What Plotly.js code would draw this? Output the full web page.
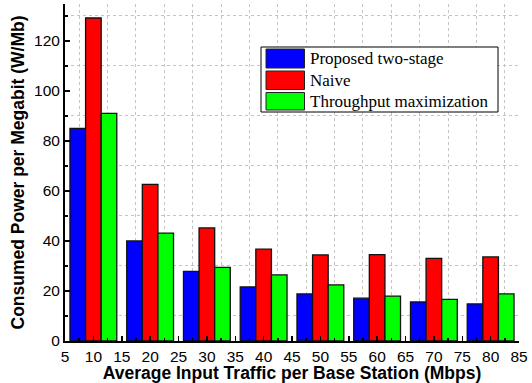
<!DOCTYPE html>
<html>
<head>
<meta charset="utf-8">
<script src="https://cdn.plot.ly/plotly-3.0.1.min.js"></script>
<style>
  html, body { margin: 0; padding: 0; background: #fff; }
  #chart { width: 532px; height: 383px; }
</style>
</head>
<body>
<div id="chart"></div>
<script>
// Average input traffic per base station (Mbps)
const traffic = [10, 20, 30, 40, 50, 60, 70, 80];

// Consumed power per megabit (W/Mb) for each scheme
const seriesNames = ['Proposed two-stage', 'Naive', 'Throughput maximization'];
const proposed   = [85.0, 40.0, 27.8, 21.6, 18.8, 17.1, 15.6, 14.8];
const naive      = [129.1, 62.6, 45.2, 36.7, 34.4, 34.5, 33.0, 33.6];
const throughput = [91.0, 43.1, 29.4, 26.4, 22.4, 17.9, 16.6, 18.8];

const seriesValues = [proposed, naive, throughput];
const seriesColors = ['#0000ff', '#ff0000', '#00ff00'];

const traces = seriesValues.map((vals, i) => ({
  type: 'bar',
  name: seriesNames[i],
  x: traffic,
  y: vals,
  marker: { color: seriesColors[i], line: { color: '#111', width: 1.3 } },
  showlegend: false,
  hoverinfo: 'x+y+name'
}));

// Plot-area geometry in pixels, used to place the boxed key
const L = 65, R = 519, T = 4, B = 341;
const px = v => (v - L) / (R - L);
const py = v => (B - v) / (B - T);

const shapes = [{
  type: 'rect', xref: 'paper', yref: 'paper',
  x0: px(261), x1: px(498), y0: py(112), y1: py(47),
  line: { color: '#000', width: 1 }, fillcolor: '#fff', layer: 'above'
}];
const annotations = [];
const rows = [[49, 68], [71, 89.5], [92.5, 110]];
rows.forEach((r, i) => {
  shapes.push({
    type: 'rect', xref: 'paper', yref: 'paper',
    x0: px(266), x1: px(304.5), y0: py(r[1]), y1: py(r[0]),
    line: { color: '#222', width: 1 }, fillcolor: seriesColors[i], layer: 'above'
  });
  annotations.push({
    xref: 'paper', yref: 'paper',
    x: px(308), y: py((r[0] + r[1]) / 2),
    xanchor: 'left', yanchor: 'middle',
    text: seriesNames[i], showarrow: false,
    font: { family: 'Liberation Serif, Times New Roman, serif', size: 17, color: '#000' }
  });
});

const layout = {
  width: 532, height: 383,
  margin: { l: L, r: 532 - R, t: T, b: 383 - B, pad: 0 },
  paper_bgcolor: '#fff', plot_bgcolor: '#fff',
  barmode: 'group', bargap: 0.175, bargroupgap: 0,
  font: { family: 'Liberation Sans, Arial, sans-serif', size: 15, color: '#000' },
  xaxis: {
    range: [5, 85], tickmode: 'linear', tick0: 5, dtick: 5,
    ticks: 'inside', ticklen: 5, tickwidth: 1.5, tickcolor: '#000',
    showline: true, linewidth: 2, linecolor: '#000',
    showgrid: false, zeroline: false,
    tickfont: { size: 15.5 },
    minor: { tick0: 5, dtick: 2.5, ticks: 'inside', ticklen: 3, tickwidth: 1.5, tickcolor: '#000',
             showgrid: true, gridcolor: '#c4c4c4', griddash: 'dot', gridwidth: 1 },
    title: { text: '<b>Average Input Traffic per Base Station (Mbps)</b>',
             font: { size: 17.5 }, standoff: 2 }
  },
  yaxis: {
    range: [0, 134.7], tickmode: 'linear', tick0: 0, dtick: 20,
    ticks: 'inside', ticklen: 5, tickwidth: 1.5, tickcolor: '#000',
    showline: true, linewidth: 2, linecolor: '#000',
    showgrid: false, zeroline: false,
    tickfont: { size: 15.5 },
    minor: { tick0: 0, dtick: 10, ticks: 'inside', ticklen: 3, tickwidth: 1.5, tickcolor: '#000',
             showgrid: true, gridcolor: '#c4c4c4', griddash: 'dot', gridwidth: 1 },
    title: { text: '<b>Consumed Power per Megabit (W/Mb)</b>',
             font: { size: 17.5 }, standoff: 5 }
  },
  shapes: shapes,
  annotations: annotations
};

Plotly.newPlot('chart', traces, layout, { displayModeBar: false, staticPlot: true });
</script>
</body>
</html>
